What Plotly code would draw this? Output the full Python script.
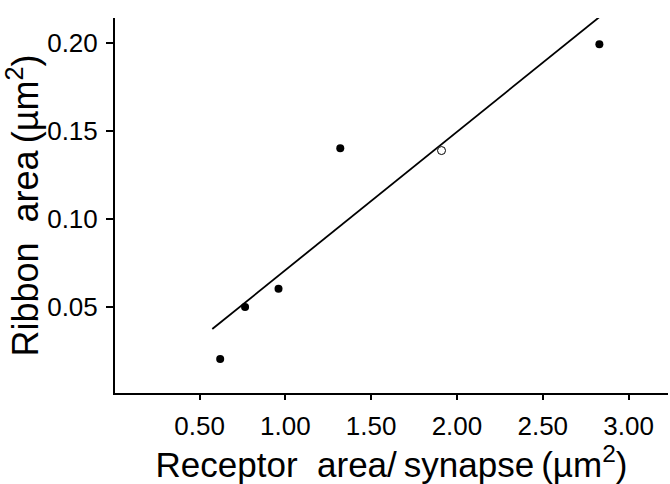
import plotly.graph_objects as go

# data
x_filled = [0.62, 0.765, 0.96, 1.32, 2.83]
y_filled = [0.0205, 0.050, 0.0604, 0.1403, 0.1994]
x_open = [1.91]
y_open = [0.139]
fit_x = [0.574, 2.864]
fit_y = [0.0375, 0.2176]

xtick_vals = [0.5, 1.0, 1.5, 2.0, 2.5, 3.0]
xtick_text = ["0.50", "1.00", "1.50", "2.00", "2.50", "3.00"]
ytick_vals = [0.05, 0.10, 0.15, 0.20]
ytick_text = ["0.05", "0.10", "0.15", "0.20"]

font_family = "Liberation Sans, Arial, Helvetica, sans-serif"

fig = go.Figure()
fig.add_trace(go.Scatter(x=fit_x, y=fit_y, mode="lines",
                         line=dict(color="black", width=1.8), showlegend=False))
fig.add_trace(go.Scatter(x=x_filled, y=y_filled, mode="markers",
                         marker=dict(color="black", size=8), showlegend=False))
fig.add_trace(go.Scatter(x=x_open, y=y_open, mode="markers",
                         marker=dict(color="white", size=8,
                                     line=dict(color="black", width=1)),
                         showlegend=False))

fig.update_layout(
    width=670, height=484,
    margin=dict(l=115, r=2, t=18, b=91),
    paper_bgcolor="white", plot_bgcolor="white",
    font=dict(family=font_family, color="black"),
    xaxis=dict(range=[0.007, 3.23], showgrid=False, zeroline=False,
               showline=True, linecolor="black", linewidth=2,
               ticks="outside", ticklen=5, tickwidth=1.5, tickcolor="black",
               tickvals=xtick_vals, ticktext=xtick_text,
               tickfont=dict(size=26), ticklabelstandoff=4,
               title=dict(text="Receptor\u00a0\u00a0area/\u2009synapse\u2009(\u00b5m<sup>2</sup>)",
                          font=dict(size=35), standoff=14)),
    yaxis=dict(range=[0.0011, 0.2144], showgrid=False, zeroline=False,
               showline=True, linecolor="black", linewidth=2,
               ticks="outside", ticklen=7, tickwidth=1.5, tickcolor="black",
               tickvals=ytick_vals, ticktext=ytick_text,
               tickfont=dict(size=26), ticklabelstandoff=3,
               title=dict(text="Ribbon\u00a0\u00a0area\u2009(\u00b5m<sup>2</sup>)",
                          font=dict(size=36), standoff=2)),
)

fig.write_html("out.html")
